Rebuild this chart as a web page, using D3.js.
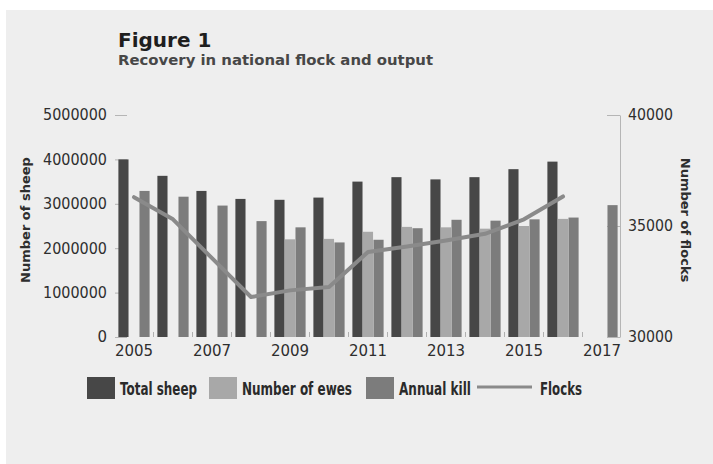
<!DOCTYPE html>
<html>
<head>
<meta charset="utf-8">
<script src="https://cdn.jsdelivr.net/npm/d3@7/dist/d3.min.js"></script>
<style>
  html, body { margin: 0; padding: 0; background: #ffffff; }
  svg { display: block; }
  text { font-family: "DejaVu Sans", sans-serif; fill: #2e2e2e; }
</style>
</head>
<body>
<script>
// Sheep numbers, ewes and annual kill (head), plus number of flocks
const years = [2005, 2006, 2007, 2008, 2009, 2010, 2011, 2012, 2013, 2014, 2015, 2016, 2017];
const totalSheep = [4000000, 3630000, 3290000, 3110000, 3090000, 3140000, 3500000, 3600000, 3550000, 3600000, 3780000, 3950000, null];
const numberOfEwes = [null, null, null, null, 2200000, 2210000, 2370000, 2480000, 2470000, 2440000, 2500000, 2660000, null];
const annualKill = [3290000, 3160000, 2960000, 2610000, 2470000, 2130000, 2190000, 2450000, 2640000, 2620000, 2650000, 2690000, 2970000];
const flocks = [36300, 35300, 33550, 31800, 32100, 32250, 33830, 34080, 34350, 34650, 35300, 36330, null];

const sheepTicks = [0, 1000000, 2000000, 3000000, 4000000, 5000000];
const flockTicks = [30000, 35000, 40000];
const yearLabels = [2005, 2007, 2009, 2011, 2013, 2015, 2017];

const seriesNames = ["Total sheep", "Number of ewes", "Annual kill"];
const seriesValues = [totalSheep, numberOfEwes, annualKill];
const colors = { "Total sheep": "#474747", "Number of ewes": "#a8a8a8", "Annual kill": "#7c7c7c", "Flocks": "#8a8a8a" };

const W = 713, H = 464;
const svg = d3.select("body").append("svg").attr("width", W).attr("height", H);

// panel background
svg.append("rect").attr("x", 0).attr("y", 0).attr("width", W).attr("height", H).attr("fill", "#ffffff");
svg.append("rect").attr("x", 6).attr("y", 10).attr("width", W - 6).attr("height", H - 10).attr("fill", "#eeeeee");

// titles
svg.append("text").attr("x", 118).attr("y", 47)
  .style("font-size", "20px").style("font-weight", "bold").style("fill", "#1e1e1e")
  .text("Figure 1");
svg.append("text").attr("x", 118).attr("y", 65)
  .style("font-size", "14.5px").style("font-weight", "bold").style("fill", "#474747")
  .attr("textLength", 315).attr("lengthAdjust", "spacingAndGlyphs")
  .text("Recovery in national flock and output");

// scales
const x0 = d3.scaleBand().domain(years).range([114.5, 621.5]).paddingInner(0.2).paddingOuter(0.1);
const x1 = d3.scaleBand().domain(seriesNames).range([0, x0.bandwidth()]).paddingInner(0.04);
const yL = d3.scaleLinear().domain([0, 5000000]).range([337, 115]);
const yR = d3.scaleLinear().domain([30000, 40000]).range([337, 115]);

// left axis (ticks only, pointing into the plot)
const gL = svg.append("g").attr("transform", "translate(115,0)")
  .call(d3.axisLeft(yL).tickValues(sheepTicks).tickFormat(d3.format("d")).tickSizeInner(-12).tickSizeOuter(0).tickPadding(8));
gL.select(".domain").remove();
gL.selectAll(".tick line").attr("stroke", "#b5b5b5");
gL.selectAll(".tick text").style("font-size", "15px").style("font-family", null).attr("fill", null)
  .attr("textLength", 64).attr("lengthAdjust", "spacingAndGlyphs")
  .filter(d => d === 0).attr("textLength", null);

// right axis with its vertical line
const gR = svg.append("g").attr("transform", "translate(620,0)")
  .call(d3.axisRight(yR).tickValues(flockTicks).tickFormat(d3.format("d")).tickSizeInner(-13).tickSizeOuter(0).tickPadding(8));
gR.select(".domain").attr("stroke", "#b5b5b5");
gR.selectAll(".tick line").attr("stroke", "#b5b5b5");
gR.selectAll(".tick text").style("font-size", "15px").style("font-family", null).attr("fill", null)
  .attr("textLength", 45).attr("lengthAdjust", "spacingAndGlyphs");

// bottom axis: small marks between years, labels on alternate years
const step = x0.step();
const gB = svg.append("g");
gB.selectAll("line.sep").data(years.slice(1)).join("line").attr("class", "sep")
  .attr("x1", d => x0(d) - step * x0.paddingInner() / 2)
  .attr("x2", d => x0(d) - step * x0.paddingInner() / 2)
  .attr("y1", 337).attr("y2", 332)
  .attr("stroke", "#b0b0b0");
const gBx = svg.append("g").attr("transform", "translate(0,337)")
  .call(d3.axisBottom(x0).tickValues(yearLabels).tickSize(0).tickPadding(8));
gBx.select(".domain").remove();
gBx.selectAll(".tick text").style("font-size", "15px").style("font-family", null).attr("fill", null);

// grouped bars
const groups = svg.append("g").selectAll("g").data(years).join("g")
  .attr("transform", d => `translate(${x0(d)},0)`);
groups.selectAll("rect").data((d, i) => seriesNames.map((s, k) => ({ s, v: seriesValues[k][i] })).filter(e => e.v != null))
  .join("rect")
  .attr("x", d => x1(d.s)).attr("width", x1.bandwidth())
  .attr("y", d => yL(d.v)).attr("height", d => yL(0) - yL(d.v))
  .attr("fill", d => colors[d.s]);

// flocks line on the right axis
const flockPts = years.map((y, i) => ({ y, v: flocks[i] })).filter(d => d.v != null);
svg.append("path").datum(flockPts)
  .attr("fill", "none").attr("stroke", colors.Flocks).attr("stroke-width", 4)
  .attr("stroke-linejoin", "round").attr("stroke-linecap", "round")
  .attr("d", d3.line().x(d => x0(d.y) + x0.bandwidth() / 2).y(d => yR(d.v)));

// axis titles
svg.append("text").attr("transform", "translate(26,220) rotate(-90)")
  .attr("text-anchor", "middle").attr("dominant-baseline", "middle")
  .style("font-size", "13px").style("font-weight", "bold").text("Number of sheep");
svg.append("text").attr("transform", "translate(684,220) rotate(90)")
  .attr("text-anchor", "middle").attr("dominant-baseline", "middle")
  .style("font-size", "13px").style("font-weight", "bold").text("Number of flocks");

// legend
const legend = svg.append("g");
const legendItems = [
  { name: "Total sheep", x: 87, w: 77 },
  { name: "Number of ewes", x: 209, w: 110 },
  { name: "Annual kill", x: 366, w: 72 }
];
legendItems.forEach(d => {
  legend.append("rect").attr("x", d.x).attr("y", 377).attr("width", 28).attr("height", 22).attr("fill", colors[d.name]);
  legend.append("text").attr("x", d.x + 33).attr("y", 395)
    .style("font-size", "17px").style("font-weight", "bold").style("fill", "#2a2a2a")
    .attr("textLength", d.w).attr("lengthAdjust", "spacingAndGlyphs").text(d.name);
});
legend.append("line").attr("x1", 477).attr("x2", 532).attr("y1", 387).attr("y2", 387)
  .attr("stroke", colors.Flocks).attr("stroke-width", 3);
legend.append("text").attr("x", 540).attr("y", 395)
  .style("font-size", "17px").style("font-weight", "bold").style("fill", "#2a2a2a")
  .attr("textLength", 42).attr("lengthAdjust", "spacingAndGlyphs").text("Flocks");
</script>
</body>
</html>
